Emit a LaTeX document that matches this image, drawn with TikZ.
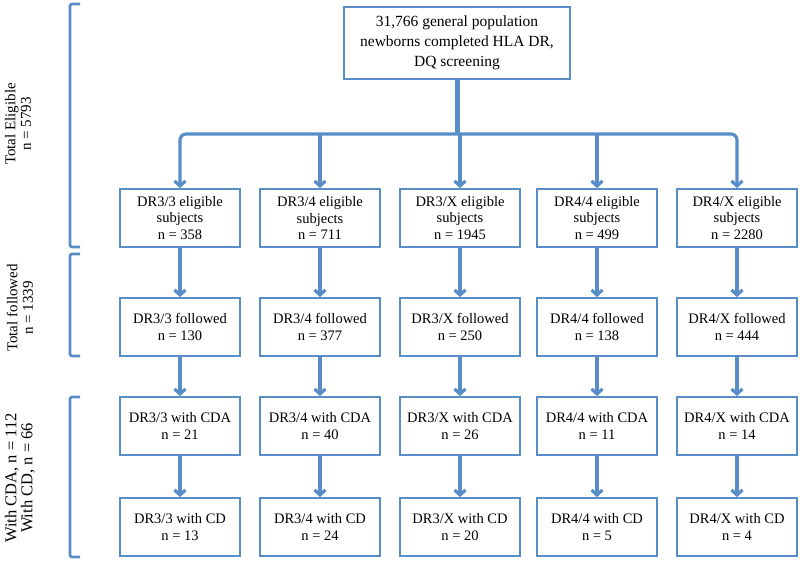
\documentclass[tikz,border=0pt]{standalone}
\usepackage{fontspec}
\setmainfont{Liberation Serif}
\usetikzlibrary{arrows.meta}
\definecolor{lineblue}{RGB}{88,141,200}
\tikzset{
  box/.style={draw=lineblue, line width=1.8pt, fill=white, align=center,
    minimum width=120pt, minimum height=58pt, inner sep=2pt,
    font=\fontsize{14.5}{16.5}\selectfont},
  topbox/.style={box, minimum width=226pt, minimum height=72pt,
    font=\fontsize{15.5}{20}\selectfont},
  conn/.style={draw=lineblue, line width=3.2pt},
  arr/.style={conn, -{Straight Barb[length=5pt,width=11pt]}},
  brk/.style={draw=lineblue, line width=2.6pt, rounded corners=2pt},
  sidelabel/.style={rotate=90, align=center, font=\fontsize{15}{15.5}\selectfont}
}
\begin{document}
\begin{tikzpicture}[x=1pt,y=-1pt]
\useasboundingbox (0,0) rectangle (800,565);

\node[topbox] (t) at (457,43) {31,766 general population\\newborns completed HLA DR,\\DQ screening};

% row 1
\node[box] (r1a) at (180,218) {DR3/3 eligible\\subjects\\n = 358};
\node[box] (r1b) at (320,218) {DR3/4 eligible\\subjects\\n = 711};
\node[box] (r1c) at (460,218) {DR3/X eligible\\subjects\\n = 1945};
\node[box] (r1d) at (597,218) {DR4/4 eligible\\subjects\\n = 499};
\node[box] (r1e) at (737,218) {DR4/X eligible\\subjects\\n = 2280};
% row 2
\node[box] (r2a) at (180,327) {DR3/3 followed\\n = 130};
\node[box] (r2b) at (320,327) {DR3/4 followed\\n = 377};
\node[box] (r2c) at (460,327) {DR3/X followed\\n = 250};
\node[box] (r2d) at (597,327) {DR4/4 followed\\n = 138};
\node[box] (r2e) at (737,327) {DR4/X followed\\n = 444};
% row 3
\node[box] (r3a) at (180,426) {DR3/3 with CDA\\n = 21};
\node[box] (r3b) at (320,426) {DR3/4 with CDA\\n = 40};
\node[box] (r3c) at (460,426) {DR3/X with CDA\\n = 26};
\node[box] (r3d) at (597,426) {DR4/4 with CDA\\n = 11};
\node[box] (r3e) at (737,426) {DR4/X with CDA\\n = 14};
% row 4
\node[box] (r4a) at (180,527) {DR3/3 with CD\\n = 13};
\node[box] (r4b) at (320,527) {DR3/4 with CD\\n = 24};
\node[box] (r4c) at (460,527) {DR3/X with CD\\n = 20};
\node[box] (r4d) at (597,527) {DR4/4 with CD\\n = 5};
\node[box] (r4e) at (737,527) {DR4/X with CD\\n = 4};

% distribution bar
\coordinate (bar) at (460,134);
\draw[conn, line width=5pt] (t.south) -- (t.south |- bar);
\draw[conn, rounded corners=6pt, {Straight Barb[length=5pt,width=11pt]}-{Straight Barb[length=5pt,width=11pt]}] (r1a.north) |- (bar) -| (r1e.north);
\draw[arr] (r1b.north |- bar) -- (r1b.north);
\draw[arr] (r1c.north |- bar) -- (r1c.north);
\draw[arr] (r1d.north |- bar) -- (r1d.north);

% vertical arrows
\foreach \c in {a,b,c,d,e}{
  \draw[arr] (r1\c.south) -- (r2\c.north);
  \draw[arr] (r2\c.south) -- (r3\c.north);
  \draw[arr] (r3\c.south) -- (r4\c.north);
}

% brackets
\coordinate (b1t) at (80,4);   \coordinate (b1b) at (80,247);
\coordinate (b2t) at (80,254); \coordinate (b2b) at (80,356);
\coordinate (b3t) at (80,397); \coordinate (b3b) at (80,557);
\draw[brk] (b1t) -- ++(-10,0) -- ([xshift=-10pt]b1b) -- (b1b);
\draw[brk] (b2t) -- ++(-10,0) -- ([xshift=-10pt]b2b) -- (b2b);
\draw[brk] (b3t) -- ++(-10,0) -- ([xshift=-10pt]b3b) -- (b3b);

% side labels
\node[sidelabel] (l1) at (18,124) {Total Eligible\\n = 5793};
\node[sidelabel] (l2) at (20,308) {Total followed\\n = 1339};
\node[sidelabel, font=\fontsize{16.5}{16}\selectfont] (l3) at (20,478) {With CDA, n = 112\\With CD, n = 66};
\end{tikzpicture}
\end{document}
